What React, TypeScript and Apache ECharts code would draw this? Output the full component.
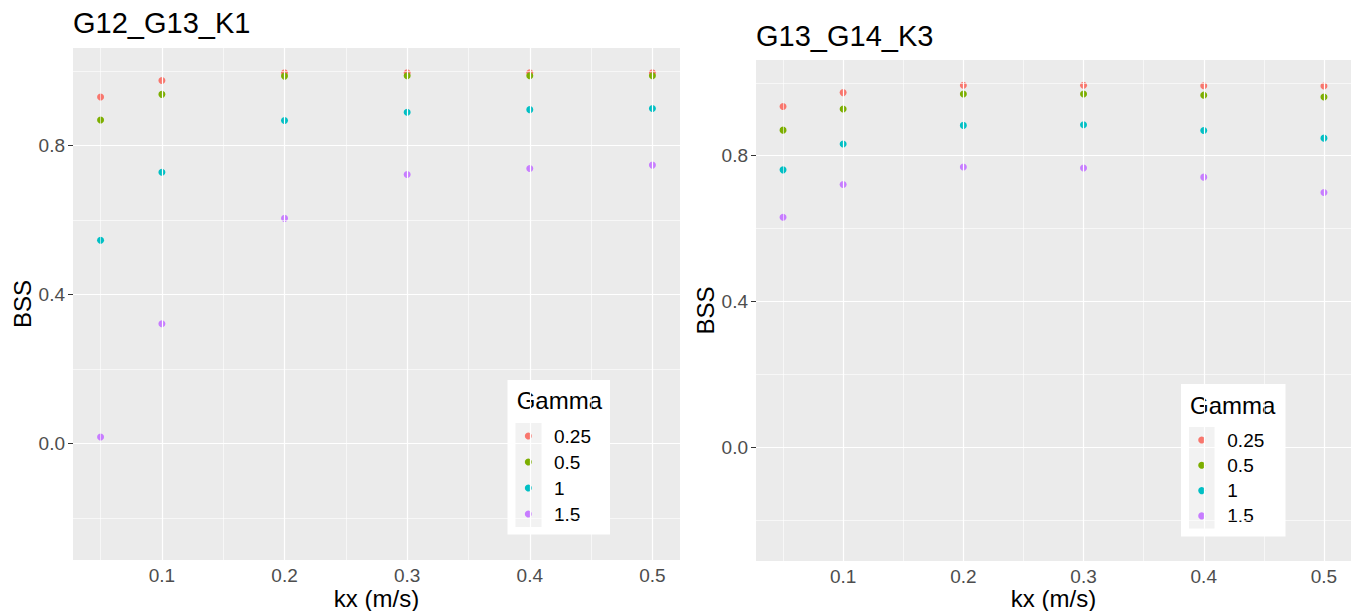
import React, { useEffect, useRef } from "react";
import * as echarts from "echarts";

const kx = [0.05, 0.1, 0.2, 0.3, 0.4, 0.5];
const gammaLevels = ["0.25", "0.5", "1", "1.5"];
const colors = ["#F8766D", "#7CAE00", "#00BFC4", "#C77CFF"];

const leftTitle = "G12_G13_K1";
const rightTitle = "G13_G14_K3";

// Left panel (G12_G13_K1) BSS per gamma
const left025 = [0.931, 0.975, 0.996, 0.996, 0.996, 0.996];
const left05 = [0.869, 0.938, 0.987, 0.988, 0.988, 0.988];
const left1 = [0.546, 0.729, 0.868, 0.89, 0.897, 0.9];
const left15 = [0.018, 0.322, 0.605, 0.723, 0.739, 0.748];

// Right panel (G13_G14_K3) BSS per gamma
const right025 = [0.935, 0.973, 0.993, 0.993, 0.992, 0.991];
const right05 = [0.87, 0.928, 0.969, 0.969, 0.966, 0.961];
const right1 = [0.761, 0.832, 0.883, 0.885, 0.869, 0.848];
const right15 = [0.631, 0.721, 0.769, 0.766, 0.741, 0.699];

const xTicks = [0.1, 0.2, 0.3, 0.4, 0.5];
const xMinor = [0.05, 0.15, 0.25, 0.35, 0.45];
const yTicks = [0, 0.4, 0.8];
const yMinor = [-0.2, 0.2, 0.6, 1.0];
const xMin = 0.0275;
const xMax = 0.5225;
const yMin = -0.3125;
const yMax = 1.0625;

const FONT = "'Liberation Sans', Arial, sans-serif";

export default function App() {
  const ref = useRef<HTMLDivElement>(null);

  useEffect(() => {
    if (!ref.current) return;
    const chart = echarts.init(ref.current, undefined, { renderer: "svg" });

    const panels = [
      { values: [left025, left05, left1, left15] },
      { values: [right025, right05, right1, right15] },
    ];

    const gridLines = () => [
      ...xTicks.map((v) => ({ xAxis: v, lineStyle: { width: 1.2 } })),
      ...xMinor.map((v) => ({ xAxis: v, lineStyle: { width: 0.6 } })),
      ...yTicks.map((v) => ({ yAxis: v, lineStyle: { width: 1.2 } })),
      ...yMinor.map((v) => ({ yAxis: v, lineStyle: { width: 0.6 } })),
    ];

    const series: any[] = [];
    panels.forEach((p, pi) => {
      series.push({
        type: "line",
        name: "grid" + pi,
        xAxisIndex: pi,
        yAxisIndex: pi,
        data: [],
        z: 1,
        silent: true,
        markLine: {
          silent: true,
          animation: false,
          symbol: ["none", "none"],
          label: { show: false },
          lineStyle: { color: "#FFFFFF", type: "solid" },
          emphasis: { disabled: true },
          data: gridLines(),
        },
      });
      p.values.forEach((vals, gi) => {
        series.push({
          type: "scatter",
          name: gammaLevels[gi],
          xAxisIndex: pi,
          yAxisIndex: pi,
          symbol: "circle",
          symbolSize: 7,
          itemStyle: { color: colors[gi], opacity: 1 },
          z: 2,
          data: kx.map((x, i) => [x, vals[i]]),
        });
      });
    });

    const makeX = (gi: number, gap: number) => ({
      type: "value",
      gridIndex: gi,
      min: xMin,
      max: xMax,
      name: "kx (m/s)",
      nameLocation: "middle",
      nameGap: gap,
      nameMoveOverlap: false,
      nameTextStyle: { fontSize: 24, lineHeight: 24, color: "#000", fontFamily: FONT },
      axisLine: { show: false },
      splitLine: { show: false },
      axisTick: {
        show: true,
        customValues: xTicks,
        length: 5,
        lineStyle: { color: "#333333", width: 1 },
      },
      axisLabel: {
        customValues: xTicks,
        fontSize: 19,
        lineHeight: 19,
        color: "#4D4D4D",
        fontFamily: FONT,
        margin: 6,
        formatter: (v: number) => v.toFixed(1),
      },
    });

    const makeY = (gi: number, gap: number) => ({
      type: "value",
      gridIndex: gi,
      min: yMin,
      max: yMax,
      name: "BSS",
      nameLocation: "middle",
      nameRotate: 90,
      nameGap: gap,
      nameTextStyle: { fontSize: 24, color: "#000", fontFamily: FONT },
      axisLine: { show: false },
      splitLine: { show: false },
      axisTick: {
        show: true,
        customValues: yTicks,
        length: 5,
        lineStyle: { color: "#333333", width: 1 },
      },
      axisLabel: {
        customValues: yTicks,
        fontSize: 19,
        color: "#4D4D4D",
        fontFamily: FONT,
        margin: 8,
        formatter: (v: number) => v.toFixed(1),
      },
    });

    // legend boxes (ggplot-style, drawn as graphics)
    const legendBoxes = [
      { box: [507.5, 380, 102.5, 154.5], key: [515.5, 423, 26, 104], titleX: 516.7, titleY: 400.5, dotX: 528.3, firstY: 436, step: 26, textX: 554 },
      { box: [1181, 384, 104.5, 152.5], key: [1189, 427, 25.5, 101.5], titleX: 1190, titleY: 405, dotX: 1201.7, firstY: 440, step: 25.3, textX: 1227.3 },
    ];
    const graphic: any[] = [];
    legendBoxes.forEach((lb) => {
      graphic.push({
        type: "rect",
        z: 3,
        shape: { x: lb.box[0], y: lb.box[1], width: lb.box[2], height: lb.box[3] },
        style: { fill: "#FFFFFF" },
      });
      graphic.push({
        type: "rect",
        z: 3,
        shape: { x: lb.key[0], y: lb.key[1], width: lb.key[2], height: lb.key[3] },
        style: { fill: "#F2F2F2" },
      });
      graphic.push({
        type: "text",
        z: 4,
        x: lb.titleX,
        y: lb.titleY,
        style: { text: "Gamma", fontSize: 24, fill: "#000", fontFamily: FONT, verticalAlign: "middle" },
      });
      gammaLevels.forEach((g, i) => {
        graphic.push({
          type: "circle",
          z: 4,
          shape: { cx: lb.dotX, cy: lb.firstY + i * lb.step, r: 3.5 },
          style: { fill: colors[i] },
        });
        graphic.push({
          type: "text",
          z: 4,
          x: lb.textX,
          y: lb.firstY + i * lb.step,
          style: { text: g, fontSize: 19, fill: "#000", fontFamily: FONT, verticalAlign: "middle" },
        });
      });
    });

    const option: any = {
      animation: false,
      backgroundColor: "#FFFFFF",
      textStyle: { fontFamily: FONT },
      title: [
        {
          text: leftTitle,
          left: 73,
          top: 8,
          padding: 0,
          textStyle: { fontSize: 29, fontWeight: "normal", color: "#000", fontFamily: FONT },
        },
        {
          text: rightTitle,
          left: 756,
          top: 21,
          padding: 0,
          textStyle: { fontSize: 29, fontWeight: "normal", color: "#000", fontFamily: FONT },
        },
      ],
      grid: [
        {
          left: 73,
          top: 48,
          width: 607,
          height: 512,
          show: true,
          backgroundColor: "#EBEBEB",
          borderWidth: 0,
          outerBoundsMode: "none",
          containLabel: false,
        },
        {
          left: 756,
          top: 60,
          width: 595,
          height: 501,
          show: true,
          backgroundColor: "#EBEBEB",
          borderWidth: 0,
          outerBoundsMode: "none",
          containLabel: false,
        },
      ],
      xAxis: [makeX(0, 26), makeX(1, 25)],
      yAxis: [makeY(0, 39), makeY(1, 39)],
      graphic,
      series,
    };

    chart.setOption(option);
    return () => chart.dispose();
  }, []);

  return (
    <div
      ref={ref}
      style={{ position: "absolute", left: 0, top: 0, width: 1355, height: 611 }}
    />
  );
}
